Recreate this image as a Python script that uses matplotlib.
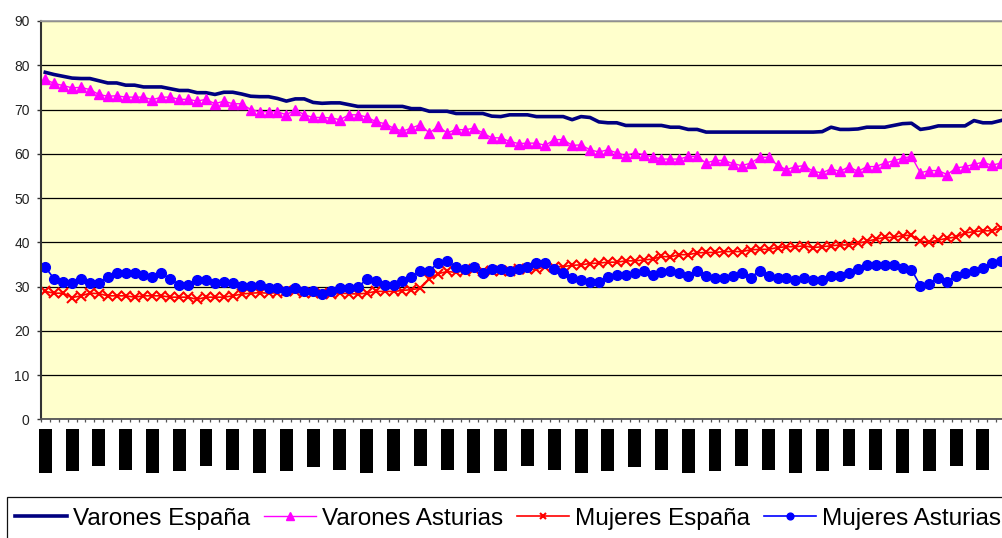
import matplotlib
matplotlib.use('Agg')
import matplotlib.pyplot as plt
import numpy as np

# ---------------- data ----------------
series_names = ["Varones España", "Varones Asturias", "Mujeres España", "Mujeres Asturias"]

varones_espana = [
    78.4, 77.9, 77.5, 77.1, 77.0, 77.0, 76.5, 76.0, 76.0, 75.5,
    75.5, 75.1, 75.1, 75.1, 74.7, 74.3, 74.3, 73.8, 73.8, 73.4,
    73.9, 73.9, 73.5, 73.0, 72.9, 72.9, 72.5, 71.9, 72.4, 72.4,
    71.6, 71.4, 71.5, 71.5, 71.1, 70.7, 70.7, 70.7, 70.7, 70.7,
    70.7, 70.2, 70.2, 69.6, 69.6, 69.6, 69.1, 69.1, 69.1, 69.1,
    68.5, 68.4, 68.8, 68.8, 68.8, 68.4, 68.4, 68.4, 68.4, 67.7,
    68.4, 68.2, 67.2, 67.0, 67.0, 66.4, 66.4, 66.4, 66.4, 66.4,
    66.0, 66.0, 65.5, 65.5, 64.9, 64.9, 64.9, 64.9, 64.9, 64.9,
    64.9, 64.9, 64.9, 64.9, 64.9, 64.9, 64.9, 65.0, 66.0, 65.5,
    65.5, 65.6, 66.0, 66.0, 66.0, 66.4, 66.8, 66.9, 65.5, 65.8,
    66.3, 66.3, 66.3, 66.3, 67.5, 67.0, 67.0, 67.5,
]

varones_asturias = [
    76.8, 75.9, 75.4, 74.9, 75.0, 74.5, 73.4, 73.0, 73.1, 72.8,
    72.8, 72.8, 72.2, 72.8, 72.8, 72.3, 72.3, 71.9, 72.3, 71.3,
    71.9, 71.3, 71.3, 70.0, 69.5, 69.5, 69.5, 68.8, 70.0, 68.8,
    68.2, 68.2, 68.1, 67.7, 68.8, 68.8, 68.3, 67.3, 66.8, 65.8,
    65.1, 65.8, 66.6, 64.7, 66.2, 64.7, 65.5, 65.4, 65.8, 64.7,
    63.6, 63.6, 62.8, 62.3, 62.4, 62.4, 61.9, 63.2, 63.2, 61.9,
    62.0, 60.9, 60.4, 60.9, 60.2, 59.6, 60.2, 59.8, 59.3, 58.8,
    58.8, 58.8, 59.4, 59.4, 57.9, 58.5, 58.5, 57.8, 57.3, 57.9,
    59.2, 59.2, 57.4, 56.4, 57.1, 57.3, 56.0, 55.7, 56.6, 56.0,
    57.1, 56.0, 57.1, 57.1, 57.9, 58.4, 59.0, 59.4, 55.7, 56.2,
    56.2, 55.3, 56.8, 57.1, 57.6, 58.1, 57.4, 57.9,
]

mujeres_espana = [
    28.9, 28.5, 28.5, 27.5, 27.9, 28.5, 28.4, 27.9, 27.9, 27.9,
    27.6, 27.9, 27.9, 27.9, 27.6, 27.6, 27.6, 27.1, 27.6, 27.6,
    27.6, 27.9, 28.3, 28.5, 28.6, 28.5, 28.6, 28.9, 28.9, 28.6,
    28.5, 28.5, 28.3, 28.5, 28.4, 28.3, 28.5, 28.9, 28.9, 28.9,
    29.1, 29.3, 29.6, 31.7, 32.9, 33.4, 33.2, 33.6, 33.9, 33.6,
    33.6, 33.6, 33.6, 33.9, 33.9, 33.9, 34.5, 34.5, 34.5, 34.8,
    34.9, 35.2, 35.3, 35.5, 35.5, 35.8, 35.8, 36.0, 36.2, 36.8,
    36.7, 37.2, 37.2, 37.6, 37.7, 37.7, 37.9, 37.9, 37.9, 38.3,
    38.4, 38.4, 38.8, 39.0, 39.0, 39.2, 38.8, 39.0, 39.2, 39.4,
    39.4, 39.8, 40.2, 40.7, 41.1, 41.1, 41.5, 41.6, 40.3, 40.0,
    40.5, 40.9, 41.2, 42.1, 42.4, 42.6, 42.6, 43.2,
]

mujeres_asturias = [
    34.4, 31.7, 31.1, 30.8, 31.7, 30.8, 30.8, 32.1, 33.0, 33.0,
    33.0, 32.5, 32.1, 33.0, 31.7, 30.4, 30.4, 31.4, 31.4, 30.8,
    31.1, 30.9, 30.1, 30.1, 30.4, 29.6, 29.6, 29.1, 29.6, 29.1,
    28.9, 28.4, 29.1, 29.6, 29.6, 29.8, 31.7, 31.3, 30.4, 30.4,
    31.3, 32.1, 33.6, 33.6, 35.3, 35.8, 34.4, 33.9, 34.4, 33.0,
    33.9, 33.9, 33.6, 33.9, 34.4, 35.3, 35.3, 33.9, 33.0, 32.0,
    31.5, 31.1, 31.1, 32.1, 32.5, 32.5, 33.0, 33.6, 32.5, 33.2,
    33.6, 33.0, 32.4, 33.6, 32.4, 31.9, 31.9, 32.4, 33.0, 32.0,
    33.6, 32.4, 31.9, 31.9, 31.5, 32.0, 31.5, 31.5, 32.4, 32.4,
    33.0, 33.9, 34.8, 34.8, 34.8, 34.8, 34.3, 33.8, 30.2, 30.6,
    32.0, 31.1, 32.4, 33.0, 33.6, 34.3, 35.3, 35.7,
]

y_ticks = [0, 10, 20, 30, 40, 50, 60, 70, 80, 90]
month_abbr = ["ene", "abr", "jul", "oct"]
x_tick_labels = [f"{month_abbr[k % 4]}-{1994 + k // 4}" for k in range(37)]

# ---------------- figure ----------------
plt.rcParams['font.family'] = ['Liberation Sans', 'DejaVu Sans']

W, H = 1003, 538
fig = plt.figure(figsize=(W / 100, H / 100), dpi=100)
fig.patch.set_facecolor('white')

x_left, y_top, y_bot = 40.8, 21.0, 419.3
px_per_cat = 8.93
n_cats = 109
ax = fig.add_axes([x_left / W, (H - y_bot) / H, n_cats * px_per_cat / W, (y_bot - y_top) / H])
ax.set_facecolor('#FFFFCC')

x = np.arange(len(varones_espana))
l1, = ax.plot(x, varones_espana, color='#000080', lw=2.6, solid_joinstyle='round')
l2, = ax.plot(x, varones_asturias, color='#FF00FF', lw=1.0, marker='^', ms=7.5,
              mfc='#FF00FF', mec='#FF00FF')
l3, = ax.plot(x, mujeres_espana, color='#FF0000', lw=1.2, marker='x', ms=6.5, mew=1.5)
l4, = ax.plot(x, mujeres_asturias, color='#0000FF', lw=1.2, marker='o', ms=7,
              mfc='#0000FF', mec='#0000FF')

ax.set_xlim(-0.5, n_cats - 0.5)
ax.set_ylim(0, 90)
ax.set_yticks(y_ticks)
ax.yaxis.grid(True, color='black', lw=0.9)
ax.set_axisbelow(True)

ax.spines['right'].set_visible(False)
ax.spines['top'].set_color('#a0a0a0')
ax.spines['top'].set_linewidth(1.3)
ax.spines['left'].set_color('#333333')
ax.spines['left'].set_linewidth(1.5)
ax.spines['bottom'].set_color('#555555')
ax.spines['bottom'].set_linewidth(1.3)

ax.tick_params(axis='y', length=3, width=1, color='#333333', pad=5,
               labelsize=10, labelcolor='#222222')

ax.set_xticks(np.arange(0, n_cats, 3))
ax.set_xticklabels(x_tick_labels, rotation=90, fontsize=7, color='black',
                   bbox=dict(boxstyle='square,pad=0.15', fc='black', ec='none'))
ax.set_xticks(np.arange(-0.5, n_cats, 1), minor=True)
ax.tick_params(axis='x', which='major', length=0, pad=8)
ax.tick_params(axis='x', which='minor', length=2.5, width=0.9, color='#555555')

# legend frame (extends past the right and bottom edges, as in the reference)
frame = plt.Rectangle((7 / W, -0.05), 1.0, (1 - 497 / H) + 0.05,
                      transform=fig.transFigure, fill=True, fc='white',
                      ec='#111111', lw=0.9, zorder=1)
fig.add_artist(frame)

leg = fig.legend([l1, l2, l3, l4], series_names, loc='center left',
                 bbox_to_anchor=(15 / W, 1 - 518.5 / H), ncol=4, fontsize=17.5,
                 frameon=False, borderaxespad=0, borderpad=0, handlelength=2.14,
                 handletextpad=0.235, columnspacing=0.59, markerscale=0.7)
leg.set_zorder(2)

fig.savefig('out.png', dpi=100)
